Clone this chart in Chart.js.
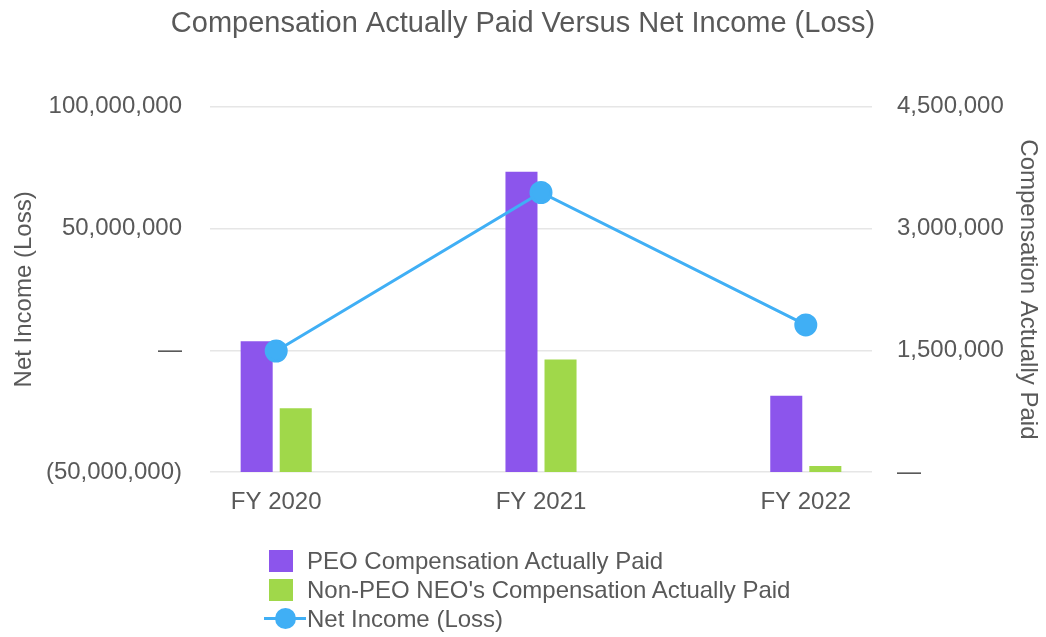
<!DOCTYPE html>
<html>
<head>
<meta charset="utf-8">
<script src="https://cdn.jsdelivr.net/npm/chart.js@4/dist/chart.umd.min.js"></script>
<style>
  html, body { margin: 0; padding: 0; background: #ffffff; }
  #wrap { position: relative; width: 1046px; height: 637px; }
  canvas { position: absolute; left: 0; top: 0; }
  #legend { position: absolute; left: 262px; top: 546px; font-family: "Liberation Sans", Arial, sans-serif; font-size: 24px; color: #595959; }
  .item { position: relative; height: 29px; line-height: 29px; padding-left: 45px; white-space: nowrap; }
  .box { position: absolute; left: 7px; top: 4px; width: 24px; height: 22px; }
  .ln { position: absolute; left: 2px; top: 13px; width: 42px; height: 3px; }
  .dot { position: absolute; left: 13px; top: 4px; width: 21px; height: 21px; border-radius: 50%; }
</style>
</head>
<body>
<div id="wrap">
  <canvas id="c" width="1046" height="637"></canvas>
  <div id="legend"></div>
</div>
<script>
const categories = ["FY 2020", "FY 2021", "FY 2022"];
const peoCAP = [1610000, 3700000, 940000];
const nonPeoCAP = [785000, 1385000, 75000];
const netIncome = [-300000, 64800000, 10400000];
const leftTicks = [-50000000, 0, 50000000, 100000000];
const rightTicks = [0, 1500000, 3000000, 4500000];

const seriesNames = ["PEO Compensation Actually Paid", "Non-PEO NEO's Compensation Actually Paid", "Net Income (Loss)"];
const colors = { peo: "#8c55ec", non: "#a0d84a", line: "#40aff5", text: "#595959", grid: "#e6e6e6" };
const FONT = "'Liberation Sans', Arial, sans-serif";

const fmt = v => v.toLocaleString("en-US");
const leftLabel = v => v === 0 ? "—" : (v < 0 ? "(" + fmt(-v) + ")" : fmt(v));
const rightLabel = v => v === 0 ? "—" : fmt(v);
const toXY = arr => arr.map((v, i) => ({ x: i, y: v }));

const chart = new Chart(document.getElementById("c"), {
  data: {
    datasets: [
      {
        type: "line", label: seriesNames[2], data: toXY(netIncome), yAxisID: "y",
        borderColor: colors.line, backgroundColor: colors.line, borderWidth: 3,
        pointRadius: 10, pointHoverRadius: 10, pointBackgroundColor: colors.line,
        pointBorderColor: colors.line, order: 0
      },
      {
        type: "bar", label: seriesNames[0], data: toXY(peoCAP), yAxisID: "y1",
        backgroundColor: colors.peo, categoryPercentage: 0.295, barPercentage: 0.82, order: 1
      },
      {
        type: "bar", label: seriesNames[1], data: toXY(nonPeoCAP), yAxisID: "y1",
        backgroundColor: colors.non, categoryPercentage: 0.295, barPercentage: 0.82, order: 1
      }
    ]
  },
  options: {
    responsive: false,
    animation: false,
    layout: { padding: { left: 0, right: 0, top: 0, bottom: 0 } },
    plugins: {
      legend: { display: false },
      tooltip: { enabled: false },
      title: {
        display: true,
        text: "Compensation Actually Paid Versus Net Income (Loss)",
        color: colors.text,
        font: { family: FONT, size: 29, weight: "normal" },
        padding: { top: 7, bottom: 65 }
      }
    },
    scales: {
      x: {
        type: "linear",
        offset: false,
        min: -0.25, max: 2.25,
        grid: { display: false, drawTicks: false, offset: false },
        border: { display: false },
        afterBuildTicks: s => { s.ticks = categories.map((c, i) => ({ value: i })); },
        afterFit: s => { s.height = 165; },
        ticks: {
          color: colors.text, font: { family: FONT, size: 24 }, padding: 16,
          callback: v => categories[v] !== undefined ? categories[v] : ""
        }
      },
      y: {
        type: "linear", position: "left",
        min: -50000000, max: 100000000,
        afterBuildTicks: s => { s.ticks = leftTicks.map(v => ({ value: v })); },
        afterFit: s => { s.width = 210; },
        grid: { color: colors.grid, lineWidth: 1.5, drawTicks: false },
        border: { display: false },
        ticks: { color: colors.text, font: { family: FONT, size: 24 }, padding: 28, callback: leftLabel },
        title: { display: true, text: "Net Income (Loss)", color: colors.text, font: { family: FONT, size: 24 }, padding: { top: 10, bottom: 0 } }
      },
      y1: {
        type: "linear", position: "right",
        min: 0, max: 4500000,
        afterBuildTicks: s => { s.ticks = rightTicks.map(v => ({ value: v })); },
        afterFit: s => { s.width = 174; },
        grid: { display: false, drawTicks: false },
        border: { display: false },
        ticks: { color: colors.text, font: { family: FONT, size: 24 }, padding: 25, callback: rightLabel },
        title: { display: true, text: "Compensation Actually Paid", color: colors.text, font: { family: FONT, size: 24 }, padding: { top: 4, bottom: 0 } }
      }
    }
  }
});

// HTML legend built from the chart's datasets
const legend = document.getElementById("legend");
const order = [1, 2, 0];
order.forEach(di => {
  const ds = chart.data.datasets[di];
  const item = document.createElement("div");
  item.className = "item";
  if (ds.type === "bar") {
    const b = document.createElement("span");
    b.className = "box"; b.style.background = ds.backgroundColor;
    item.appendChild(b);
  } else {
    const l = document.createElement("span");
    l.className = "ln"; l.style.background = ds.borderColor;
    const d = document.createElement("span");
    d.className = "dot"; d.style.background = ds.borderColor;
    item.appendChild(l); item.appendChild(d);
  }
  item.appendChild(document.createTextNode(ds.label));
  legend.appendChild(item);
});
</script>
</body>
</html>
